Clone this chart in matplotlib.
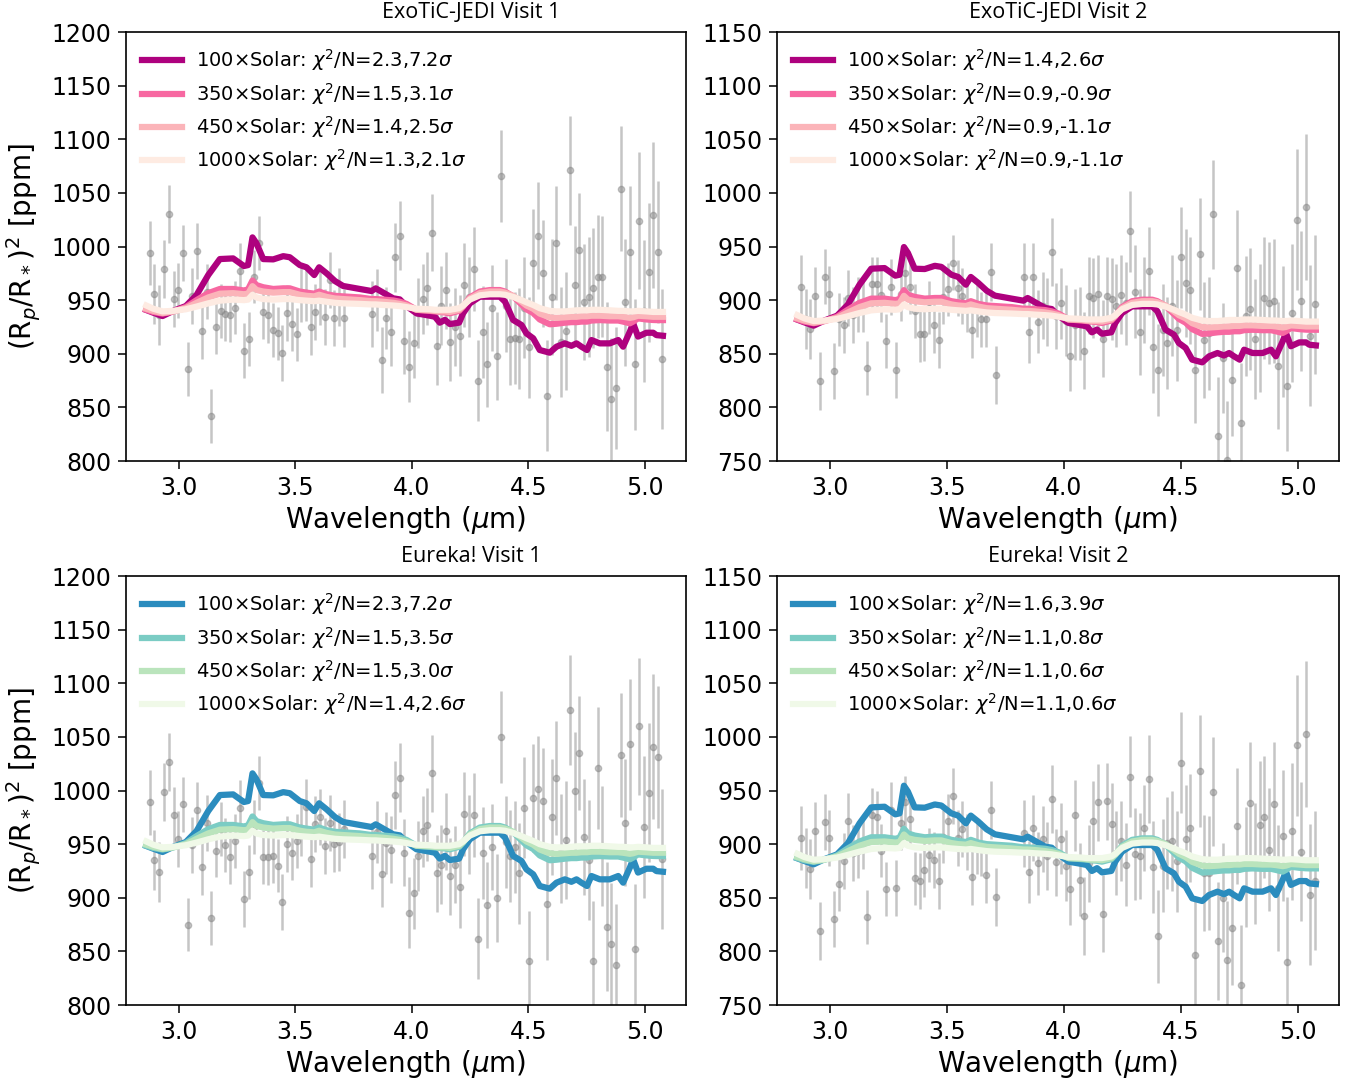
import numpy as np
import matplotlib
matplotlib.use("Agg")
import matplotlib.pyplot as plt

# binned wavelengths (um), NRS1 then NRS2
wl_nrs1 = [2.875, 2.895, 2.916, 2.936, 2.956, 2.977, 2.997, 3.017, 3.038, 3.058,
           3.078, 3.099, 3.119, 3.139, 3.159, 3.180, 3.200, 3.220, 3.241, 3.261,
           3.281, 3.302, 3.322, 3.342, 3.363, 3.383, 3.403, 3.424, 3.444, 3.464,
           3.485, 3.505, 3.525, 3.546, 3.566, 3.586, 3.607, 3.627, 3.647, 3.668,
           3.688, 3.708]
wl_nrs2 = [3.830, 3.850, 3.870, 3.889, 3.909, 3.929, 3.949, 3.968, 3.988, 4.008,
           4.028, 4.047, 4.067, 4.087, 4.107, 4.126, 4.146, 4.166, 4.186, 4.205,
           4.225, 4.245, 4.265, 4.284, 4.304, 4.324, 4.344, 4.364, 4.383, 4.403,
           4.423, 4.443, 4.462, 4.482, 4.502, 4.522, 4.541, 4.561, 4.581, 4.601,
           4.620, 4.640, 4.660, 4.680, 4.699, 4.719, 4.739, 4.759, 4.778, 4.798,
           4.818, 4.838, 4.857, 4.877, 4.897, 4.917, 4.936, 4.956, 4.976, 4.996,
           5.016, 5.035, 5.055, 5.075]

# 1-sigma uncertainties (ppm)
err_nrs1 = [30, 28, 28, 27, 27, 26, 26, 26, 25, 26, 26, 26, 26, 25, 25, 25, 25, 25, 25, 26,
            26, 25, 25, 25, 25, 26, 25, 25, 26, 26, 25, 25, 26, 26, 26, 26, 26, 26, 26, 26,
            27, 27]
err_nrs2 = [31, 29, 31, 29, 31, 32, 32, 31, 33, 33, 33, 33, 34, 36, 36, 37, 36, 36, 36, 38,
            39, 37, 39, 38, 43, 40, 40, 41, 43, 43, 43, 43, 47, 47, 47, 50, 50, 50, 52, 54,
            53, 51, 55, 51, 55, 53, 54, 56, 56, 57, 56, 60, 57, 57, 58, 59, 61, 61, 64, 66,
            65, 68, 66, 65]

# transit depths (ppm)
jedi_v1 = [994, 956, 936, 979, 1030, 951, 959, 994, 886, 954, 996, 921, 958, 842, 925, 940,
           937, 936, 943, 977, 903, 914, 972, 1003, 939, 936, 922, 919, 901, 938, 928, 918,
           956, 957, 925, 939, 953, 934, 969, 933, 953, 933,
           937, 950, 894, 933, 920, 990, 1010, 912, 888, 910, 938, 951, 961, 1013, 907, 945,
           959, 911, 925, 917, 964, 953, 979, 875, 920, 890, 943, 898, 1066, 945, 914, 915,
           914, 943, 906, 985, 1010, 975, 861, 953, 1003, 911, 921, 1071, 964, 997, 948, 953,
           961, 972, 972, 888, 858, 868, 1054, 948, 995, 890, 1024, 940, 976, 1029, 995, 895]
jedi_v2 = [912, 882, 873, 904, 825, 922, 906, 834, 882, 877, 902, 886, 896, 895, 837, 915,
           915, 905, 862, 912, 835, 906, 925, 912, 890, 868, 868, 893, 877, 863, 903, 910,
           935, 911, 904, 896, 872, 892, 882, 882, 926, 830,
           922, 870, 922, 880, 895, 889, 945, 885, 897, 881, 848, 877, 878, 853, 904, 902,
           906, 864, 904, 901, 895, 905, 897, 964, 908, 870, 900, 927, 856, 835, 872, 860,
           895, 872, 940, 916, 909, 835, 943, 863, 869, 980, 773, 846, 751, 826, 930, 785,
           885, 892, 864, 874, 902, 897, 899, 839, 871, 820, 888, 975, 899, 987, 867, 896]
eureka_v1 = [989, 935, 924, 999, 1027, 977, 955, 987, 875, 949, 982, 929, 970, 881, 944, 964,
             949, 938, 953, 984, 899, 924, 966, 1007, 938, 938, 939, 930, 896, 950, 942, 953,
             965, 985, 936, 969, 975, 948, 970, 950, 952, 964,
             939, 961, 922, 951, 945, 996, 1012, 942, 886, 904, 939, 962, 968, 1016, 923, 931,
             962, 920, 931, 910, 978, 959, 977, 862, 942, 893, 947, 900, 1050, 952, 939, 947,
             923, 984, 841, 993, 1001, 990, 894, 975, 1012, 946, 954, 1075, 1000, 1035, 957, 935,
             841, 1021, 948, 873, 857, 837, 1033, 970, 1043, 852, 1060, 966, 998, 1041, 1031, 936]
eureka_v2 = [906, 887, 877, 912, 819, 921, 906, 830, 863, 884, 922, 892, 894, 902, 832, 927,
             925, 894, 858, 932, 859, 920, 939, 923, 868, 866, 876, 890, 885, 866, 907, 922,
             945, 906, 914, 902, 869, 898, 896, 871, 932, 851,
             910, 874, 915, 882, 905, 889, 942, 883, 905, 880, 858, 927, 867, 833, 882, 922,
             939, 835, 940, 919, 892, 903, 881, 963, 891, 889, 915, 961, 879, 814, 880, 901,
             903, 884, 976, 905, 915, 797, 968, 873, 873, 949, 810, 850, 792, 822, 917, 769,
             879, 938, 882, 918, 925, 895, 937, 859, 908, 790, 912, 992, 893, 1003, 853, 866]

# forward models (ppm), as fit to ExoTiC-JEDI Visit 1
model_wl = [2.860, 2.890, 2.930, 2.976, 3.030, 3.076, 3.126, 3.176, 3.233, 3.279,
            3.297, 3.316, 3.333, 3.362, 3.405, 3.448, 3.476, 3.519, 3.548, 3.581,
            3.602, 3.634, 3.670, 3.705, 3.777, 3.827, 3.845, 3.877, 3.920, 3.948,
            3.977, 4.020, 4.077, 4.099, 4.120, 4.142, 4.163, 4.203, 4.220, 4.249,
            4.292, 4.335, 4.378, 4.400, 4.435, 4.471, 4.492, 4.521, 4.549, 4.592,
            4.621, 4.657, 4.685, 4.707, 4.728, 4.752, 4.771, 4.807, 4.850, 4.886,
            4.907, 4.936, 4.950, 4.971, 5.007, 5.036, 5.050, 5.078]
model_100 = [940.8, 938.3, 935.2, 940.0, 944.5, 954.8, 973.4, 988.3, 988.9, 981.8,
             982.7, 1008.5, 1003.0, 988.3, 988.0, 991.0, 990.0, 982.7, 980.6, 973.4,
             980.6, 975.0, 967.8, 963.2, 960.4, 958.5, 961.0, 957.0, 951.7, 950.7,
             944.5, 937.7, 935.5, 934.5, 929.0, 931.6, 927.7, 929.0, 937.7, 947.0,
             953.2, 953.2, 953.2, 948.6, 931.5, 926.8, 919.0, 914.4, 903.5, 901.0,
             906.6, 909.7, 907.4, 909.7, 906.6, 903.5, 912.8, 909.7, 909.7, 912.8,
             906.6, 920.6, 928.4, 916.0, 919.6, 919.6, 917.4, 916.8]
model_350 = [941.0, 939.0, 937.5, 939.5, 943.5, 950.0, 956.5, 960.4, 960.4, 959.0,
             960.0, 968.3, 964.0, 962.0, 960.4, 961.0, 961.0, 958.0, 957.0, 956.0,
             958.0, 955.5, 954.0, 953.5, 952.5, 951.0, 951.0, 950.5, 949.7, 948.5,
             946.5, 941.0, 940.0, 939.5, 939.0, 938.5, 937.7, 940.0, 944.0, 952.5,
             958.0, 959.4, 959.4, 958.0, 953.5, 946.0, 941.5, 938.0, 932.0, 927.5,
             928.0, 929.0, 929.5, 929.5, 930.0, 930.0, 931.0, 931.4, 931.0, 931.0,
             930.0, 928.4, 930.0, 933.0, 932.0, 931.5, 931.4, 931.4]
model_450 = [942.0, 940.0, 938.0, 939.5, 942.5, 947.5, 952.5, 956.0, 956.5, 955.5,
             956.0, 963.0, 959.5, 958.0, 957.0, 957.5, 957.5, 955.0, 954.0, 953.5,
             955.0, 953.0, 951.5, 951.0, 950.0, 949.0, 949.0, 948.5, 947.5, 946.5,
             945.0, 941.0, 940.5, 940.0, 939.5, 939.5, 939.0, 941.0, 944.5, 951.5,
             956.5, 958.0, 958.0, 957.0, 954.0, 948.5, 945.0, 942.0, 937.5, 934.0,
             933.5, 934.0, 934.5, 934.5, 935.0, 935.0, 935.5, 935.5, 935.0, 935.0,
             934.5, 933.5, 934.0, 935.5, 935.0, 934.5, 934.5, 934.5]
model_1000 = [945.0, 942.0, 939.5, 940.0, 941.5, 944.0, 947.0, 949.5, 950.5, 950.0,
              950.5, 955.0, 952.5, 951.0, 950.5, 951.0, 951.0, 950.0, 949.5, 949.0,
              949.5, 948.5, 947.5, 947.0, 946.5, 946.0, 946.0, 945.5, 945.0, 944.5,
              943.5, 942.0, 941.5, 941.0, 941.0, 941.0, 941.0, 942.5, 945.0, 950.5,
              954.5, 955.5, 955.5, 955.0, 953.0, 950.0, 948.0, 945.5, 942.5, 940.0,
              939.5, 939.5, 940.0, 940.5, 940.5, 940.5, 941.0, 941.0, 940.5, 940.0,
              940.0, 939.5, 939.5, 940.0, 939.5, 939.0, 939.0, 939.0]

metallicities = [100, 350, 450, 1000]
panel_titles = ["ExoTiC-JEDI Visit 1", "ExoTiC-JEDI Visit 2", "Eureka! Visit 1", "Eureka! Visit 2"]
model_offset = [0.0, -59.0, 7.5, -54.0]
chi2 = [[2.3, 1.5, 1.4, 1.3], [1.4, 0.9, 0.9, 0.9], [2.3, 1.5, 1.5, 1.4], [1.6, 1.1, 1.1, 1.1]]
nsigma = [[7.2, 3.1, 2.5, 2.1], [2.6, -0.9, -1.1, -1.1], [7.2, 3.5, 3.0, 2.6], [3.9, 0.8, 0.6, 0.6]]
ylims = [(800, 1200), (750, 1150), (800, 1200), (750, 1150)]

pink = ["#ae017e", "#f768a1", "#fbb4b9", "#feebe2"]
blue = ["#2b8cbe", "#7bccc4", "#bae4bc", "#f0f9e8"]

wl = np.array(wl_nrs1 + wl_nrs2)
err = np.array(err_nrs1 + err_nrs2)
spectra = [jedi_v1, jedi_v2, eureka_v1, eureka_v2]
models = [model_100, model_350, model_450, model_1000]

plt.rcParams['font.family'] = 'DejaVu Sans'
plt.rcParams['mathtext.fontset'] = 'dejavusans'

fig = plt.figure(figsize=(13.52, 10.85), dpi=100)
rects = [[0.0932, 0.5751, 0.4142, 0.3954], [0.5747, 0.5751, 0.4157, 0.3954],
         [0.0932, 0.0737, 0.4142, 0.3954], [0.5747, 0.0737, 0.4157, 0.3954]]
title_x = [0.616, 0.5, 0.616, 0.5]

for i in range(4):
    ax = fig.add_axes(rects[i])
    colors = pink if i < 2 else blue
    ax.errorbar(wl, spectra[i], yerr=err, fmt='o', color='grey', ms=4.5,
                elinewidth=1.8, alpha=0.45, zorder=1)
    for j in range(4):
        label = (f"{metallicities[j]}$\\times$Solar: $\\chi^2$/N={chi2[i][j]},"
                 f"{nsigma[i][j]}$\\sigma$")
        ax.plot(model_wl, np.array(models[j]) + model_offset[i], color=colors[j],
                lw=4.5, label=label, zorder=2 + j)
    ax.set_xlim(2.773, 5.177)
    ax.set_ylim(*ylims[i])
    ax.set_xticks([3.0, 3.5, 4.0, 4.5, 5.0])
    ax.set_yticks(np.arange(ylims[i][0], ylims[i][1] + 1, 50))
    ax.tick_params(labelsize=17, length=6, width=1.1, pad=4.5)
    for s in ax.spines.values():
        s.set_linewidth(1.2)
    ax.set_xlabel("Wavelength ($\\mu$m)", fontsize=20, labelpad=3)
    if i % 2 == 0:
        ax.set_ylabel("(R$_p$/R$_*$)$^2$ [ppm]", fontsize=20, labelpad=6)
    ax.set_title(panel_titles[i], fontsize=15.5, family='Open Sans', x=title_x[i], pad=10)
    ax.legend(loc='upper left', frameon=False, fontsize=14, handlelength=2.1,
              handletextpad=0.7, labelspacing=0.37, borderaxespad=0.4)

fig.savefig("out.png", dpi=100)
